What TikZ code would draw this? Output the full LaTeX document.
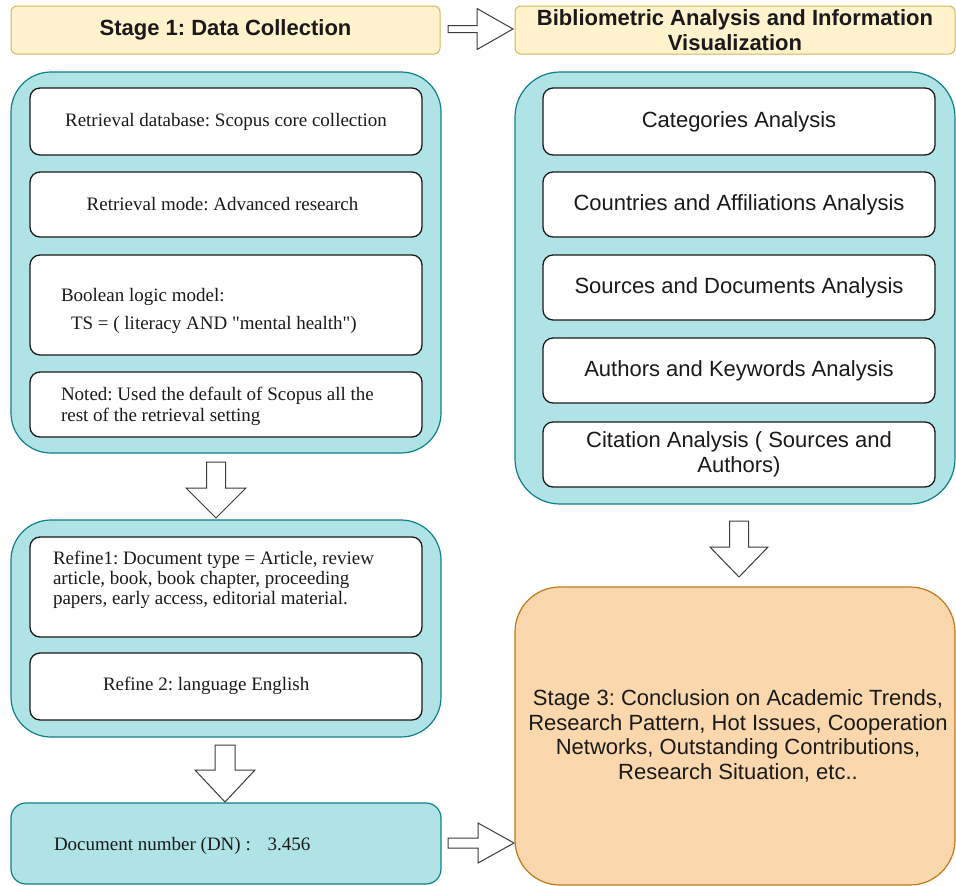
\documentclass[tikz,border=0pt]{standalone}
\usepackage{fontspec}
\setmainfont{Liberation Serif}[Ligatures=TeXOff]
\setsansfont{Liberation Sans}
\usetikzlibrary{positioning,calc}
\definecolor{hdrfill}{HTML}{FFF2CC}
\definecolor{hdrdraw}{HTML}{D6B656}
\definecolor{tealfill}{HTML}{B0E3E6}
\definecolor{tealdraw}{HTML}{0E8088}
\definecolor{orfill}{HTML}{FAD7AC}
\definecolor{ordraw}{HTML}{C07A1A}
\definecolor{ink}{HTML}{1A1A1A}
\frenchspacing
\tikzset{
  every node/.style={inner sep=0pt, outer sep=0pt, text=ink},
  hdr/.style={draw=hdrdraw, fill=hdrfill, line width=1pt, rounded corners=6pt,
    font=\sffamily\bfseries\fontsize{22}{25}\selectfont, align=center},
  container/.style={draw=tealdraw, fill=tealfill, line width=1.2pt, rounded corners=40pt},
  wbox/.style={draw=ink, fill=white, line width=1.3pt, rounded corners=10pt,
    minimum width=392pt},
  serif/.style={font=\rmfamily\fontsize{19}{21}\selectfont},
  sans/.style={font=\sffamily\fontsize{22}{24.5}\selectfont, align=center},
  barrow/.style={draw=ink!85, fill=white, line width=1pt, line join=miter},
}
\begin{document}
\begin{tikzpicture}[x=1pt, y=-1pt]
\useasboundingbox (0,0) rectangle (956,886);

% headers
\node[hdr, minimum width=429pt, minimum height=48pt] (hdr1) at (225.5,30) {Stage 1: Data Collection};
\node[hdr, minimum width=440pt, minimum height=48pt] (hdr2) at (735,30) {Bibliometric Analysis and Information\\Visualization};

% left container 1
\node[container, minimum width=430pt, minimum height=381pt] (cont1) at (226,262.5) {};
\node[wbox, minimum height=67pt, serif] (l1) at (226,121.5) {Retrieval database: Scopus core collection};
\node[wbox, minimum height=65pt] (l2) at (226,204.5) {};
\node[serif] (l2t) at (222.5,204.5) {Retrieval mode: Advanced research};
\node[wbox, minimum height=100pt] (l3) at (226,305) {};
\node[serif, anchor=west, align=left, font=\rmfamily\fontsize{19}{28}\selectfont] (l3t) at (61,311)
  {Boolean logic model:\\\hspace*{10pt}TS = ( literacy AND "mental health")};
\node[wbox, minimum height=65pt] (l4) at (226,404.5) {};
\node[serif, anchor=west, align=left] (l4t) at (61,406.5)
  {Noted: Used the default of Scopus all the\\rest of the retrieval setting};

% left container 2
\node[container, minimum width=430pt, minimum height=217pt] (cont2) at (226,628.5) {};
\node[wbox, minimum height=100pt] (r1) at (226,587) {};
\node[serif, anchor=west, align=left, font=\rmfamily\fontsize{19}{20}\selectfont] (r1t) at (53,580)
  {Refine1: Document type = Article, review\\article, book, book chapter, proceeding\\papers, early access, editorial material.};
\node[wbox, minimum height=67pt] (r2) at (226,686.5) {};
\node[serif, anchor=west] (r2t) at (103,686) {Refine 2: language English};

% document number
\node[draw=tealdraw, fill=tealfill, line width=1.2pt, rounded corners=15pt,
  minimum width=430pt, minimum height=81pt] (dn) at (226,843.5) {};
\node[serif, anchor=west] (dnt) at (54,846) {Document number (DN) :\hspace*{12pt} 3.456};

% right container
\node[container, rounded corners=45pt, minimum width=440pt, minimum height=432pt] (cont3) at (735,288) {};
\node[wbox, minimum height=67pt, sans] (a1) at (739,121.5) {Categories Analysis};
\node[wbox, minimum height=65pt, sans] (a2) at (739,204.5) {Countries and Affiliations Analysis};
\node[wbox, minimum height=65pt, sans] (a3) at (739,287.5) {Sources and Documents Analysis};
\node[wbox, minimum height=65pt, sans] (a4) at (739,370.5) {Authors and Keywords Analysis};
\node[wbox, minimum height=65pt, sans] (a5) at (739,454.5) {Citation Analysis ( Sources and\\Authors)};

% stage 3
\node[draw=ordraw, fill=orfill, line width=1.2pt, rounded corners=45pt,
  minimum width=440pt, minimum height=298pt] (s3) at (735,736) {};
\node[sans] (s3t) at (738,736) {Stage 3: Conclusion on Academic Trends,\\Research Pattern, Hot Issues, Cooperation\\Networks, Outstanding Contributions,\\Research Situation, etc..};

% block arrows
\draw[barrow] (448,25.5) -- (477,25.5) -- (477,8.5) -- (513,29) -- (477,49.5) -- (477,32.5) -- (448,32.5) -- cycle;
\draw[barrow] (448,838) -- (478,838) -- (478,823) -- (514,843) -- (478,863) -- (478,848) -- (448,848) -- cycle;
\draw[barrow] (206.5,462) -- (225.5,462) -- (225.5,488) -- (246,488) -- (216,518) -- (186,488) -- (206.5,488) -- cycle;
\draw[barrow] (215,745) -- (235,745) -- (235,770) -- (255,770) -- (225,802) -- (195,770) -- (215,770) -- cycle;
\draw[barrow] (729.5,521) -- (748.5,521) -- (748.5,547) -- (768,547) -- (739,577) -- (710,547) -- (729.5,547) -- cycle;
\end{tikzpicture}
\end{document}
